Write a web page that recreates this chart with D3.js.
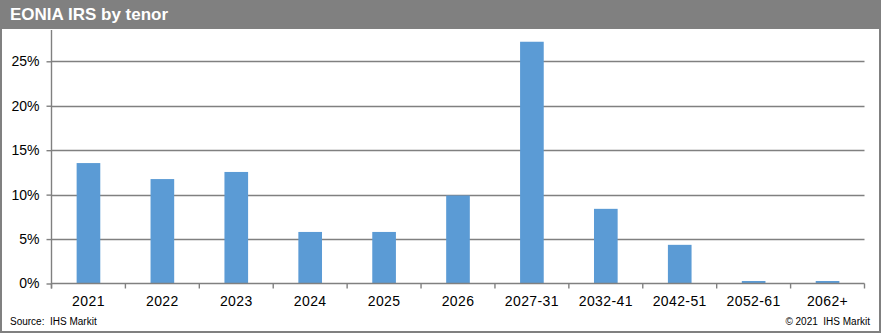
<!DOCTYPE html>
<html>
<head>
<meta charset="utf-8">
<script src="https://cdn.jsdelivr.net/npm/d3@7"></script>
<style>
  body { margin: 0; background: #fff; }
  svg { display: block; font-family: Arial, "Liberation Sans", sans-serif; }
</style>
</head>
<body>
<div id="chart"></div>
<script>
// data
const tenors = ['2021', '2022', '2023', '2024', '2025', '2026', '2027-31', '2032-41', '2042-51', '2052-61', '2062+'];
const shares = [13.55, 11.75, 12.55, 5.8, 5.8, 9.9, 27.2, 8.4, 4.35, 0.28, 0.28];
const yTicks = [0, 5, 10, 15, 20, 25];

const width = 882, height = 336;
const plot = { left: 51.5, right: 864.5, top: 30, bottom: 283.5 };

const svg = d3.select('#chart')
    .append('svg')
    .attr('width', width)
    .attr('height', height);

// outer frame
svg.append('rect')
    .attr('x', 1).attr('y', 1)
    .attr('width', 879).attr('height', 331)
    .attr('fill', 'none')
    .attr('stroke', '#808080')
    .attr('stroke-width', 2);

const x = d3.scaleBand()
    .domain(tenors)
    .range([plot.left, plot.right])
    .paddingInner(0.68)
    .paddingOuter(0.34);

// percent scale, 25% sits at y=61.3
const y = d3.scaleLinear()
    .domain([0, 25])
    .range([plot.bottom, 61.3]);

// gridlines
svg.append('g')
    .selectAll('line')
    .data(yTicks.filter(d => d > 0))
    .enter()
    .append('line')
    .attr('x1', plot.left).attr('x2', plot.right)
    .attr('y1', d => Math.round(y(d)) + 0.5)
    .attr('y2', d => Math.round(y(d)) + 0.5)
    .attr('stroke', '#808080')
    .attr('stroke-width', 1.4);

// bars
svg.append('g')
    .selectAll('rect')
    .data(tenors.map((t, i) => [t, shares[i]]))
    .enter()
    .append('rect')
    .attr('x', d => x(d[0]))
    .attr('width', x.bandwidth())
    .attr('y', d => y(d[1]))
    .attr('height', d => y(0) - y(d[1]))
    .attr('fill', '#5B9BD5');

// y axis
const yAxis = d3.axisLeft(y)
    .tickValues(yTicks)
    .tickFormat(d => d + '%')
    .tickSize(5)
    .tickPadding(7);
const gy = svg.append('g')
    .attr('transform', `translate(${plot.left},0)`)
    .call(yAxis);
gy.select('.domain').remove();
gy.append('line')
    .attr('x1', 0).attr('x2', 0)
    .attr('y1', plot.top).attr('y2', plot.bottom + 5)
    .attr('stroke', '#808080').attr('stroke-width', 1.4);
gy.selectAll('.tick line').attr('stroke', '#808080').attr('stroke-width', 1.4);
gy.selectAll('.tick text')
    .style('font-size', '14px')
    .attr('fill', '#000');

// x axis: ticks between categories
const gx = svg.append('g')
    .attr('transform', `translate(0,${plot.bottom})`);
gx.append('line')
    .attr('x1', plot.left).attr('x2', plot.right)
    .attr('stroke', '#808080').attr('stroke-width', 1.4);
const step = x.step();
gx.selectAll('.sep')
    .data(tenors.concat(['end']))
    .enter()
    .append('line')
    .attr('x1', (d, i) => plot.left + i * step)
    .attr('x2', (d, i) => plot.left + i * step)
    .attr('y1', 0).attr('y2', 5)
    .attr('stroke', '#808080').attr('stroke-width', 1.4);
gx.selectAll('.lbl')
    .data(tenors)
    .enter()
    .append('text')
    .attr('x', d => x(d) + x.bandwidth() / 2)
    .attr('y', 22.5)
    .attr('text-anchor', 'middle')
    .style('font-size', '14px')
    .style('letter-spacing', '0.4px')
    .text(d => d);

// title bar
svg.append('rect')
    .attr('x', 0).attr('y', 0)
    .attr('width', 881).attr('height', 29)
    .attr('fill', '#808080');
svg.append('text')
    .attr('x', 10).attr('y', 20)
    .attr('fill', '#fff')
    .style('font-size', '17px')
    .style('font-weight', 'bold')
    .text('EONIA IRS by tenor');

// footer
svg.append('text')
    .attr('x', 10).attr('y', 325)
    .style('font-size', '10px')
    .style('white-space', 'pre')
    .text('Source:  IHS Markit');
svg.append('text')
    .attr('x', 870).attr('y', 325)
    .attr('text-anchor', 'end')
    .style('font-size', '10px')
    .style('white-space', 'pre')
    .text('© 2021  IHS Markit');
</script>
</body>
</html>
